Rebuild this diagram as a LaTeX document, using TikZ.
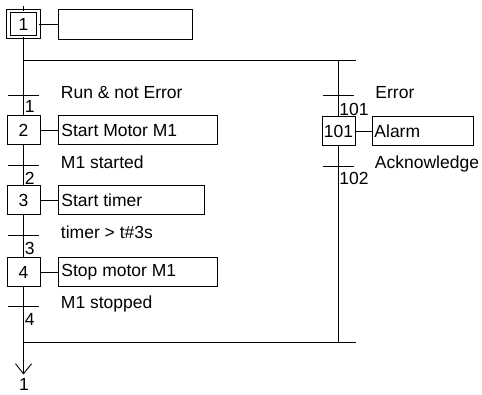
\documentclass[tikz,border=0pt]{standalone}
\usepackage{fontspec}
\setmainfont{Liberation Sans}
\usetikzlibrary{arrows.meta}
\tikzset{
  every picture/.style={line width=0.9pt},
  stepbox/.style={draw, minimum width=33pt, minimum height=29pt, inner sep=0pt, outer sep=0pt, font=\fontsize{17.5}{20}\selectfont},
  initstep/.style={draw, double, double distance=2.4pt, minimum width=30pt, minimum height=26pt, inner sep=0pt, outer sep=0pt, font=\fontsize{17.5}{20}\selectfont},
  actbox/.style={draw, minimum height=29pt, inner sep=0pt, outer sep=0pt, text depth=0pt, font=\fontsize{17.5}{20}\selectfont},
  trbar/.style={minimum width=31pt, minimum height=0pt, inner sep=0pt, outer sep=0pt},
  cond/.style={anchor=base west, inner sep=0pt, font=\fontsize{17.5}{20}\selectfont},
  trlab/.style={anchor=base west, inner sep=0pt, font=\fontsize{17.5}{20}\selectfont},
  acttext/.style={anchor=west, inner sep=0pt, font=\fontsize{17.5}{20}\selectfont}
}
\begin{document}
\begin{tikzpicture}[x=1pt,y=-1pt]
\useasboundingbox (0,0) rectangle (482,395);
% left column
\coordinate (stub) at (23.5,6.5);
\node[initstep] (s1) at (23.5,24) {1};
\node[actbox, minimum width=134pt, minimum height=30pt] (a1) at (125,24) {};
\coordinate (divL) at (23.5,60.5);
\coordinate (divR) at (338.5,60.5);
\coordinate (divE) at (356,60.5);
\node[trbar] (t1) at (23.5,95.5) {};
\node[cond] (c1) at (60.5,99) {Run \& not Error};
\node[trlab] (l1) at (24.5,113) {1};
\node[stepbox] (s2) at (23.5,130) {2};
\node[actbox, minimum width=159pt] (a2) at (137.5,130) {};
\node[acttext] at ([xshift=3pt]a2.west) {Start Motor M1};
\node[trbar] (t2) at (23.5,165.5) {};
\node[cond] (c2) at (60.5,168.5) {M1 started};
\node[trlab] (l2) at (24.5,185) {2};
\node[stepbox] (s3) at (23.5,200) {3};
\node[actbox, minimum width=146pt] (a3) at (131,200) {};
\node[acttext] at ([xshift=3pt]a3.west) {Start timer};
\node[trbar] (t3) at (23.5,235.5) {};
\node[cond] (c3) at (60.5,238.5) {timer > t\#3s};
\node[trlab] (l3) at (24.5,254.5) {3};
\node[stepbox] (s4) at (23.5,272) {4};
\node[actbox, minimum width=159pt] (a4) at (137.5,272) {};
\node[acttext] at ([xshift=3pt]a4.west) {Stop motor M1};
\node[trbar] (t4) at (23.5,306.5) {};
\node[cond] (c4) at (60.5,309) {M1 stopped};
\node[trlab] (l4) at (24.5,326) {4};
\coordinate (convL) at (23.5,342.5);
\coordinate (convR) at (338.5,342.5);
\coordinate (convE) at (356,342.5);
\coordinate (jmp) at (23.5,374.5);
\node[anchor=base, inner sep=0pt, font=\fontsize{17.5}{20}\selectfont] (j1) at (24,390) {1};
% right column
\node[trbar] (t101) at (338,95.5) {};
\node[cond] (c101) at (375,98.5) {Error};
\node[trlab] (l101) at (339,116) {101};
\node[stepbox] (s101) at (338.5,131) {101};
\node[actbox, minimum width=101pt] (a101) at (422.5,131) {};
\node[acttext] at ([xshift=2pt]a101.west) {Alarm};
\node[trbar] (t102) at (338,166.5) {};
\node[cond] (c102) at (374.5,168.5) {Acknowledge};
\node[trlab] (l102) at (339,185) {102};
% transition bars
\foreach \t in {t1,t2,t3,t4,t101,t102} \draw (\t.west) -- (\t.east);
% connectors
\draw (stub) -- (s1.north);
\draw (s1.east) -- (a1.west);
\draw (s1.south) -- (s2.north);
\draw (s2.east) -- (a2.west);
\draw (s2.south) -- (s3.north);
\draw (s3.east) -- (a3.west);
\draw (s3.south) -- (s4.north);
\draw (s4.east) -- (a4.west);
\draw (s4.south) -- (convL);
\draw[-{Straight Barb[length=10pt,width=16pt]}] (convL) -- (jmp);
\draw (divL) -- (divE);
\draw (convL) -- (convE);
\draw (divR) -- (s101.north);
\draw (s101.east) -- (a101.west);
\draw (s101.south) -- (convR);
\end{tikzpicture}
\end{document}
